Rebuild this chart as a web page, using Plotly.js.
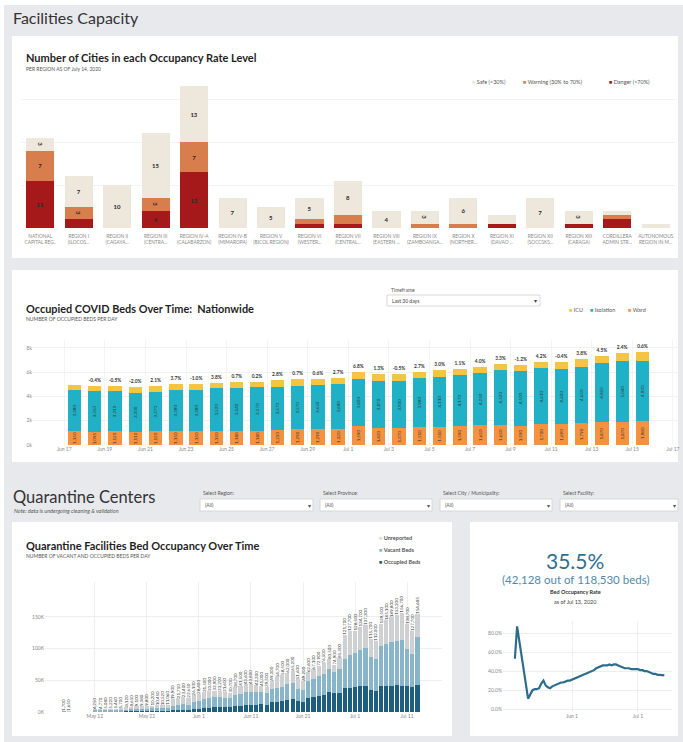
<!DOCTYPE html>
<html><head><meta charset="utf-8">
<script src="https://cdn.plot.ly/plotly-3.0.1.min.js"></script>
<style>html,body{margin:0;padding:0;background:#e8e9ed;}#chart{width:683px;height:742px;}</style>
</head><body><div id="chart"></div>
<script>
// ---------- Chart 1: cities per occupancy level ----------
const regions = ["NATIONAL<br>CAPITAL REG..","REGION I<br>(ILOCOS...","REGION II<br>(CAGAYA...","REGION III<br>(CENTRA...","REGION IV-A<br>(CALABARZON)","REGION IV-B<br>(MIMAROPA)","REGION V<br>(BICOL REGION)","REGION VI<br>(WESTER...","REGION VII<br>(CENTRAL...","REGION VIII<br>(EASTERN ...","REGION IX<br>(ZAMBOANGA...","REGION X<br>(NORTHER...","REGION XI<br>(DAVAO ...","REGION XII<br>(SOCCSKS...","REGION XIII<br>(CARAGA)","CORDILLERA<br>ADMIN STR...","AUTONOMOUS<br>REGION IN M..."];
const citiesDanger  = [11,2,0,4,13,0,0,1,1,0,0,0,1,0,1,2,0];
const citiesWarning = [7,3,0,3,7,0,0,1,2,0,1,1,0,0,0,1,0];
const citiesSafe    = [3,7,10,15,13,7,5,5,8,4,3,6,2,7,3,1,1];

// ---------- Chart 2: occupied COVID beds ----------
const bedDates = ["2020-06-17","2020-06-18","2020-06-19","2020-06-20","2020-06-21","2020-06-22","2020-06-23","2020-06-24","2020-06-25","2020-06-26","2020-06-27","2020-06-28","2020-06-29","2020-06-30","2020-07-01","2020-07-02","2020-07-03","2020-07-04","2020-07-05","2020-07-06","2020-07-07","2020-07-08","2020-07-09","2020-07-10","2020-07-11","2020-07-12","2020-07-13","2020-07-14","2020-07-15"];
const wardBeds = [1150,1095,1120,1110,1120,1150,1150,1150,1180,1180,1230,1290,1290,1320,1590,1420,1370,1510,1510,1590,1650,1650,1590,1700,1690,1790,1870,1870,1980];
const isolationBeds = [3380,3350,3310,3200,3270,3380,3380,3520,3540,3570,3570,3570,3650,3680,3820,3870,3900,3980,4110,4170,4250,4520,4500,4610,4600,4650,4850,5040,4930];
const icuBeds = [410,440,430,440,490,520,470,460,490,460,550,550,520,540,570,550,550,540,580,470,540,500,490,550,530,610,630,690,720];
const changeLabels = ["","-0.4%","-0.5%","-2.0%","2.1%","3.7%","-1.0%","3.8%","0.7%","0.2%","2.8%","0.7%","0.6%","2.7%","6.8%","1.3%","-0.5%","2.7%","3.0%","1.1%","4.0%","3.3%","-1.2%","4.2%","-0.4%","3.8%","4.5%","2.4%","0.6%"];

// ---------- Chart 3: quarantine facility beds ----------
const qDates = ["2020-05-06","2020-05-07","2020-05-12","2020-05-13","2020-05-14","2020-05-15","2020-05-16","2020-05-17","2020-05-18","2020-05-19","2020-05-20","2020-05-21","2020-05-22","2020-05-23","2020-05-24","2020-05-25","2020-05-26","2020-05-27","2020-05-28","2020-05-29","2020-05-30","2020-05-31","2020-06-01","2020-06-02","2020-06-03","2020-06-04","2020-06-05","2020-06-06","2020-06-07","2020-06-08","2020-06-09","2020-06-10","2020-06-11","2020-06-12","2020-06-13","2020-06-14","2020-06-15","2020-06-16","2020-06-17","2020-06-18","2020-06-19","2020-06-20","2020-06-21","2020-06-22","2020-06-23","2020-06-24","2020-06-25","2020-06-26","2020-06-27","2020-06-28","2020-06-29","2020-06-30","2020-07-01","2020-07-02","2020-07-03","2020-07-04","2020-07-05","2020-07-06","2020-07-07","2020-07-08","2020-07-09","2020-07-10","2020-07-11","2020-07-12","2020-07-13"];
const occupiedBeds = [420,510,300,420,480,520,560,600,820,1250,1100,1080,1200,1300,1450,1520,1660,2700,3050,3400,3150,4500,5100,6100,6500,7300,7600,7700,7900,9500,10200,11500,11800,11600,11900,11500,15000,16400,17000,18900,20600,17200,16500,22100,23800,25600,27500,31000,29300,30700,37200,38300,40100,40800,41100,34200,33300,40700,41200,41600,42000,41100,40300,38700,42128];
const vacantBeds = [380,90,2450,2250,2300,2200,2250,2300,2900,2900,3300,3700,4300,4400,4500,4600,4800,7300,8100,8700,8400,11000,12300,14100,14900,16100,16200,15100,14600,17900,18700,19800,20000,19200,18900,18400,20500,22100,23200,24500,25700,19500,18900,27000,28400,30500,31900,36400,33200,37200,47000,51800,53200,56900,59700,52100,49800,63500,65800,68500,70300,72800,58300,52600,76402];
const unreportedBeds = [900,1050,1500,2100,2300,2500,2650,2800,4400,4500,4700,4600,4300,4500,4500,4400,4600,9900,10600,11300,11100,10600,11000,11300,11600,10500,9400,8800,8200,11300,12600,12300,12000,11500,10200,9600,13800,16200,18300,18600,18900,14900,13800,13500,14900,16800,17100,16100,12400,17400,37500,37600,35200,37000,36500,29400,28900,35300,38100,39700,40900,42800,40100,36400,36155];

// ---------- Chart 4: bed occupancy rate ----------
const rateDates = qDates;
const occupancyRate = [0.53,0.87,0.11,0.15,0.20,0.21,0.21,0.22,0.27,0.30,0.25,0.23,0.22,0.24,0.25,0.26,0.27,0.28,0.28,0.29,0.30,0.30,0.31,0.32,0.33,0.34,0.35,0.36,0.37,0.38,0.39,0.40,0.41,0.43,0.44,0.45,0.46,0.46,0.46,0.47,0.46,0.47,0.47,0.46,0.45,0.44,0.43,0.43,0.43,0.42,0.42,0.42,0.42,0.41,0.41,0.40,0.40,0.39,0.38,0.37,0.37,0.36,0.36,0.355,0.355];

// ---------- helpers ----------
const W = 683, H = 742;
const px = x => x / W;
const py = y => 1 - y / H;
const FONT = 'Lato, "Open Sans", sans-serif';
const DAY = 86400000;

function ann(x, y, text, size, color, extra) {
  return Object.assign({xref:'paper', yref:'paper', x:px(x), y:py(y), text:text, showarrow:false,
    xanchor:'left', yanchor:'middle', font:{family:FONT, size:size, color:color}}, extra || {});
}
function rect(x0, y0, x1, y1, fill, line) {
  return {type:'rect', xref:'paper', yref:'paper', x0:px(x0), x1:px(x1), y0:py(y1), y1:py(y0),
    fillcolor:fill, line:{width: line ? 0.8 : 0, color: line || fill}, layer:'below'};
}
const sq = c => '<span style="color:' + c + '">■</span>';

const C = {safe:'#ede7dc', warn:'#d87d4c', danger:'#a5191a', icu:'#f6c443', iso:'#21b1c6', ward:'#f49240',
  unrep:'#cfd0d2', vac:'#88b5c9', occ:'#1e5f7f', rate:'#2d6d8c'};

const traces = [];
const lbl = arr => arr.map(v => v >= 3 ? String(v) : '');
[[citiesDanger,'Danger (>70%)',C.danger],[citiesWarning,'Warning (30% to 70%)',C.warn],[citiesSafe,'Safe (<30%)',C.safe]].forEach(([vals,name,col]) => {
  traces.push({type:'bar', x:regions, y:vals, name:name, marker:{color:col}, xaxis:'x', yaxis:'y',
    text:lbl(vals), textposition:'inside', insidetextanchor:'middle', constraintext:'none',
    textfont:{family:FONT, size:6, color:'#2a2a2a', weight:'bold'}, showlegend:false, hoverinfo:'skip'});
});

const bedX = bedDates.map(d => d + ' 12:00');
traces.push({type:'bar', x:bedX, y:wardBeds, name:'Ward', marker:{color:C.ward}, xaxis:'x2', yaxis:'y2', width:0.66*DAY,
  texttemplate:'%{y:,}', textposition:'inside', insidetextanchor:'middle', textangle:-90, constraintext:'none',
  textfont:{family:FONT, size:4.5, color:'#333'}, showlegend:false, hoverinfo:'skip'});
traces.push({type:'bar', x:bedX, y:isolationBeds, name:'Isolation', marker:{color:C.iso}, xaxis:'x2', yaxis:'y2', width:0.66*DAY,
  texttemplate:'%{y:,}', textposition:'inside', insidetextanchor:'middle', textangle:-90, constraintext:'none',
  textfont:{family:FONT, size:4.5, color:'#333'}, showlegend:false, hoverinfo:'skip'});
traces.push({type:'bar', x:bedX, y:icuBeds, name:'ICU', marker:{color:C.icu}, xaxis:'x2', yaxis:'y2', width:0.66*DAY,
  text:changeLabels, textposition:'outside', textangle:0, constraintext:'none', cliponaxis:false,
  outsidetextfont:{family:FONT, size:4.8, color:'#333', weight:'bold'}, showlegend:false, hoverinfo:'skip'});

const totals = qDates.map((d,i) => occupiedBeds[i] + vacantBeds[i] + unreportedBeds[i]);
traces.push({type:'bar', x:qDates, y:occupiedBeds, name:'Occupied Beds', marker:{color:C.occ}, xaxis:'x3', yaxis:'y3', width:0.8*DAY, showlegend:false, hoverinfo:'skip'});
traces.push({type:'bar', x:qDates, y:vacantBeds, name:'Vacant Beds', marker:{color:C.vac}, xaxis:'x3', yaxis:'y3', width:0.8*DAY, showlegend:false, hoverinfo:'skip'});
traces.push({type:'bar', x:qDates, y:unreportedBeds, name:'Unreported', marker:{color:C.unrep}, xaxis:'x3', yaxis:'y3', width:0.8*DAY,
  text:totals.map(t => t.toLocaleString('en-US')), textposition:'outside', textangle:-90, constraintext:'none', cliponaxis:false,
  outsidetextfont:{family:FONT, size:4.5, color:'#333'}, showlegend:false, hoverinfo:'skip'});

traces.push({type:'scatter', mode:'lines', x:rateDates, y:occupancyRate, xaxis:'x4', yaxis:'y4',
  line:{color:C.rate, width:2.2}, showlegend:false, hoverinfo:'skip'});

const tickF = {family:FONT, size:5, color:'#888'};
const layout = {
  width:W, height:H, margin:{l:0,r:0,t:0,b:0}, paper_bgcolor:'#e8e9ed', plot_bgcolor:'rgba(0,0,0,0)',
  barmode:'stack', bargap:0.27, showlegend:false, font:{family:FONT},
  xaxis:{domain:[px(21),px(675)], anchor:'y', type:'category', range:[-0.5,16.5], tickfont:{family:FONT,size:4.8,color:'#888'},
    showgrid:false, showline:false, ticks:'', ticklabelstandoff:4, fixedrange:true},
  yaxis:{domain:[py(228),py(84)], anchor:'x', range:[0,33.5], tickvals:[10,20,30], showticklabels:false,
    gridcolor:'#f3f3f3', zeroline:false, fixedrange:true},
  xaxis2:{domain:[px(33),px(678)], anchor:'y2', type:'date', range:['2020-06-15 11:00','2020-07-17 06:00'],
    tickmode:'linear', tick0:'2020-06-17', dtick:2*DAY, tickformat:'%b %-d', tickfont:tickF,
    showgrid:true, gridcolor:'#f4f4f4', ticks:'', showline:false, zeroline:false, fixedrange:true},
  yaxis2:{domain:[py(445),py(340)], anchor:'x2', range:[0,8642], tickvals:[0,2000,4000,6000,8000],
    ticktext:['0k','2k','4k','6k','8k'], tickfont:tickF, gridcolor:'#f1f1f1', zeroline:false, ticks:'', fixedrange:true},
  xaxis3:{domain:[px(45),px(442)], anchor:'y3', type:'date', range:['2020-05-02 10:00','2020-07-17 17:00'],
    tickmode:'linear', tick0:'2020-05-12', dtick:10*DAY, tickformat:'%b %-d', tickfont:tickF,
    showgrid:true, gridcolor:'#efefef', ticks:'', showline:false, zeroline:false, fixedrange:true},
  yaxis3:{domain:[py(712),py(582)], anchor:'x3', range:[0,205000], tickvals:[0,50000,100000,150000],
    ticktext:['0K','50K','100K','150K'], tickfont:tickF, gridcolor:'#eeeeee', zeroline:false, ticks:'', fixedrange:true},
  xaxis4:{domain:[px(503),px(672)], anchor:'y4', type:'date', range:['2020-04-30 14:00','2020-07-16 12:00'],
    tickvals:['2020-06-01','2020-07-01'], tickformat:'%b %-d', tickfont:tickF,
    showgrid:true, gridcolor:'#efefef', ticks:'', showline:false, zeroline:false, fixedrange:true},
  yaxis4:{domain:[py(712),py(620.7)], anchor:'x4', range:[-0.03,0.93], tickvals:[0,0.2,0.4,0.6,0.8],
    tickformat:'.1%', tickfont:tickF, gridcolor:'#eeeeee', zeroline:false, ticks:'', fixedrange:true},
  shapes:[
    rect(0,0,683,5,'#ffffff'),
    rect(0,0,4,742,'#ffffff'),
    rect(12,36,678,258,'#ffffff'),
    rect(12,270,678,462,'#ffffff'),
    rect(12,522,452,736,'#ffffff'),
    rect(470,522,678,736,'#ffffff'),
    rect(387,295,540,306,'#ffffff','#cfcfcf'),
    rect(200,499,313,511,'#ffffff','#cfcfcf'),
    rect(320,499,432,511,'#ffffff','#cfcfcf'),
    rect(440,499,552,511,'#ffffff','#cfcfcf'),
    rect(560,499,678,511,'#ffffff','#cfcfcf')
  ],
  annotations:[
    ann(11,18,'Facilities Capacity',16,'#333'),
    ann(24,57,'<b>Number of Cities in each Occupancy Rate Level</b>',11,'#1f1f1f'),
    ann(24,69,'PER REGION AS OF July 14, 2020',5,'#555'),
    ann(470,82,sq(C.safe)+' Safe (&lt;30%)',5.5,'#555'),
    ann(521,82,sq(C.warn)+' Warning (30% to 70%)',5.5,'#555'),
    ann(607,82,sq(C.danger)+' Danger (&gt;70%)',5.5,'#555'),

    ann(24,308,'<b>Occupied COVID Beds Over Time:\u00a0 Nationwide</b>',10.9,'#1f1f1f'),
    ann(24,319,'NUMBER OF OCCUPIED BEDS PER DAY',5,'#555'),
    ann(389,290,'Timeframe',5,'#555'),
    ann(390,300.5,'Last 30 days',5,'#444'),
    ann(532,300.5,'▾',6,'#444'),
    ann(567,310,sq(C.icu)+' ICU',5.5,'#555'),
    ann(588,310,sq(C.iso)+' Isolation',5.5,'#555'),
    ann(626,310,sq(C.ward)+' Ward',5.5,'#555'),

    ann(11,497,'Quarantine Centers',16.5,'#333'),
    ann(12,511,'<i>Note: data is undergoing cleaning &amp; validation</i>',5.5,'#555'),
    ann(201,493,'Select Region:',5,'#555'),
    ann(203,505,'(All)',5,'#555'),
    ann(306,505,'▾',6,'#555'),
    ann(321,493,'Select Province:',5,'#555'),
    ann(323,505,'(All)',5,'#555'),
    ann(425,505,'▾',6,'#555'),
    ann(441,493,'Select City / Municipality:',5,'#555'),
    ann(443,505,'(All)',5,'#555'),
    ann(545,505,'▾',6,'#555'),
    ann(561,493,'Select Facility:',5,'#555'),
    ann(563,505,'(All)',5,'#555'),
    ann(671,505,'▾',6,'#555'),

    ann(24,545,'<b>Quarantine Facilities Bed Occupancy Over Time</b>',11,'#1f1f1f'),
    ann(24,556,'NUMBER OF VACANT AND OCCUPIED BEDS PER DAY',5,'#555'),
    ann(377,538,sq('#d6dde2')+' <b>Unreported</b>',5.5,'#555'),
    ann(377,550,sq(C.vac)+' <b>Vacant Beds</b>',5.5,'#555'),
    ann(377,562,sq(C.occ)+' <b>Occupied Beds</b>',5.5,'#555'),

    ann(575,560,'35.5%',21,'#2e6f8e',{xanchor:'center'}),
    ann(575,579,'(42,128 out of 118,530 beds)',11.5,'#4f8aab',{xanchor:'center'}),
    ann(575,592,'<b>Bed Occupancy Rate</b>',5.5,'#333',{xanchor:'center'}),
    ann(575,602,'as of Jul 13, 2020',5.5,'#444',{xanchor:'center'})
  ]
};

Plotly.newPlot('chart', traces, layout, {staticPlot:true, displayModeBar:false});
</script>
</body></html>
